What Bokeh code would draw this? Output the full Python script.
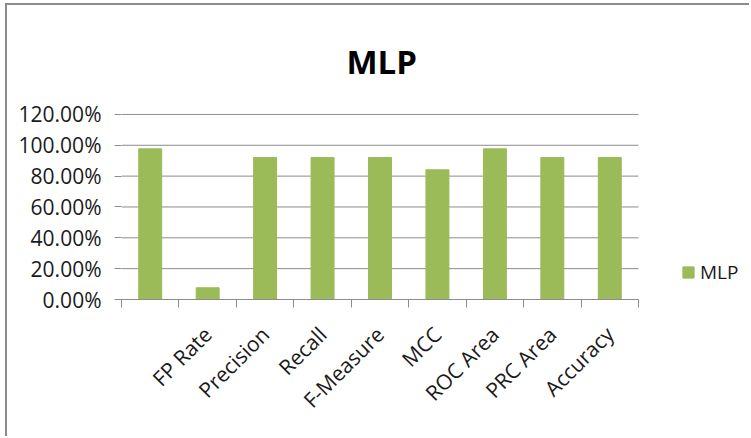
import math
from bokeh.plotting import figure
from bokeh.models import (ColumnDataSource, FixedTicker, CustomJSTickFormatter,
                          NumeralTickFormatter, Legend, LegendItem, Range1d)
from bokeh.embed import file_html
from bokeh.resources import INLINE

categories = [" ", "FP Rate", "Precision", "Recall", "F-Measure", "MCC",
              "ROC Area", "PRC Area", "Accuracy"]
mlp_values = [0.977, 0.076, 0.921, 0.921, 0.921, 0.841, 0.977, 0.921, 0.921]
y_ticks = [0.0, 0.2, 0.4, 0.6, 0.8, 1.0, 1.2]
series_name = "MLP"

GREEN = "#9BBB59"
GRAY = "#8c8c8c"
TXT = "#1a1a1a"
FONT = "Open Sans"

n = len(categories)
xpos = [i + 0.5 for i in range(n)]
src = ColumnDataSource(dict(x=xpos, top=mlp_values, cat=categories))

# frame spans the plot area plus the legend area on the right
FRAME_W = 630
PLOT_W = 517
p = figure(width=744, height=433, output_backend="svg", toolbar_location=None,
           x_range=Range1d(0, n * FRAME_W / PLOT_W), y_range=Range1d(0, 1.206),
           min_border_left=114, min_border_right=0, min_border_top=108,
           min_border_bottom=139,
           styles={"margin-left": "5px", "margin-top": "3px",
                   "border-left": "2px solid #8c8c8c",
                   "border-top": "2px solid #8c8c8c"})
p.outline_line_color = None
p.background_fill_color = "white"
p.border_fill_color = "white"

xa = p.below[0]
ya = p.left[0]

# horizontal gridlines across the category span only
p.segment(x0=[0] * len(y_ticks), x1=[n] * len(y_ticks), y0=y_ticks, y1=y_ticks,
          line_color=GRAY, line_width=1)

r = p.vbar(x="x", top="top", width=0.4, bottom=0, source=src,
           fill_color=GREEN, line_color=GREEN)

# title
p.title.text = "MLP"
p.title.align = "left"
p.title.offset = 225
p.title.text_font = FONT
p.title.text_font_size = "33px"
p.title.text_font_style = "bold"
p.title.text_color = "black"
p.title.standoff = 60

# x axis
xa.bounds = (0, n)
xa.ticker = FixedTicker(ticks=xpos, minor_ticks=list(range(n + 1)))
xa.formatter = CustomJSTickFormatter(args=dict(labels=categories),
                                     code="return labels[Math.floor(tick)];")
xa.major_label_orientation = math.pi / 4
xa.major_tick_line_color = None
xa.major_tick_out = 0
xa.major_tick_in = 0
xa.minor_tick_out = 8
xa.minor_tick_in = 0
xa.minor_tick_line_color = GRAY
xa.axis_line_color = GRAY
xa.major_label_text_font = FONT
xa.major_label_text_font_size = "21px"
xa.major_label_text_color = TXT
xa.major_label_standoff = 23

# y axis
ya.ticker = FixedTicker(ticks=y_ticks)
ya.formatter = NumeralTickFormatter(format="0.00%")
ya.axis_line_color = None
ya.major_tick_line_color = GRAY
ya.major_tick_out = 7
ya.major_tick_in = 0
ya.minor_tick_line_color = None
ya.major_label_text_font = FONT
ya.major_label_text_font_size = "21px"
ya.major_label_text_color = TXT
ya.major_label_standoff = 13

p.xgrid.grid_line_color = None
p.ygrid.grid_line_color = None

legend = Legend(items=[LegendItem(label=series_name, renderers=[r])],
                location=(560, 14), glyph_width=14, glyph_height=14,
                label_standoff=5, padding=0, margin=0, spacing=0,
                border_line_color=None, background_fill_alpha=0,
                label_text_font=FONT, label_text_font_size="19px",
                label_text_color=TXT)
p.add_layout(legend)

open("out.html", "w").write(file_html(p, INLINE))
